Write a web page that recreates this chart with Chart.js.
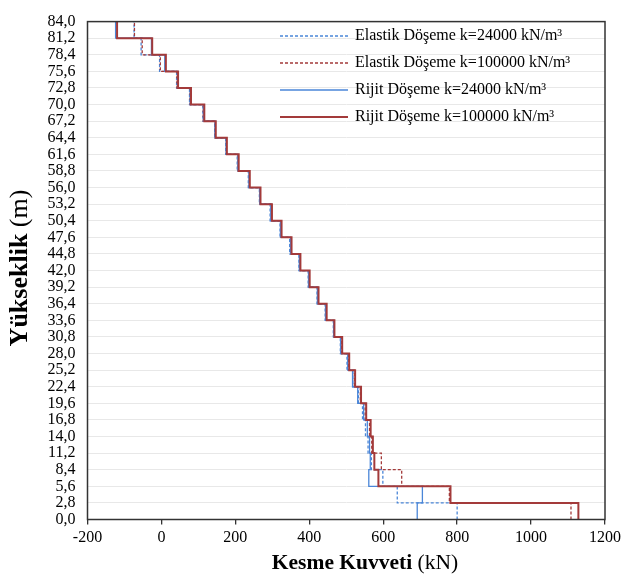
<!DOCTYPE html>
<html lang="tr">
<head>
<meta charset="utf-8"/>
<title>Kesme Kuvveti - Yükseklik</title>
<script src="https://cdn.jsdelivr.net/npm/chart.js"></script>
<style>
    body {
      margin: 0;
      background: #fff;
    }
    .kutu {
      position: relative;
      width: 625px;
      height: 577px;
    }
  </style>
</head>
<body>
<div class="kutu">
<canvas id="grafik"></canvas>
</div>
<script>
    // kat seviyeleri (m) - y ekseni etiketleri
    const seviyeler = [0, 2.8, 5.6, 8.4, 11.2, 14, 16.8, 19.6, 22.4, 25.2, 28, 30.8, 33.6, 36.4, 39.2, 42,
      44.8, 47.6, 50.4, 53.2, 56, 58.8, 61.6, 64.4, 67.2, 70, 72.8, 75.6, 78.4, 81.2, 84];
    const xTikler = [-200, 0, 200, 400, 600, 800, 1000, 1200];

    // kat kesme kuvvetleri (kN), alttan üste
    const elastik24 = [800, 638, 599, 568, 559, 552, 544, 533, 518, 502, 484, 465, 443, 421, 397,
      372, 347, 321, 294, 265, 235, 205, 174, 144, 112, 76, 41, -5, -55, -74];
    const elastik100 = [1108, 779, 650, 595, 569, 563, 551, 538, 522, 506, 487, 467, 446, 424, 400,
      375, 350, 324, 297, 267, 238, 207, 176, 145, 113, 77, 42, -3, -52, -73];
    const rijit24 = [692, 706, 561, 565, 563, 557, 547, 531, 517, 504, 485, 466, 444, 422, 398,
      373, 349, 322, 296, 266, 237, 207, 175, 145, 114, 78, 44, 9, -27, -124];
    const rijit100 = [1128, 782, 587, 576, 572, 566, 554, 540, 524, 508, 489, 468, 447, 425, 401,
      376, 352, 325, 299, 268, 239, 209, 177, 147, 116, 80, 45, 12, -25, -120];

    const etiketler = [
      'Elastik Döşeme k=24000 kN/m³',
      'Elastik Döşeme k=100000 kN/m³',
      'Rijit Döşeme k=24000 kN/m³',
      'Rijit Döşeme k=100000 kN/m³'
    ];

    const MAVI = '#4a86d8';
    const KIRMIZI = '#a33a3a';
    const YAZI = '"Liberation Serif", "Times New Roman", serif';

    // her kat için dikey parça: (V, alt) -> (V, üst)
    function basamak(degerler) {
      const noktalar = [];
      degerler.forEach((v, i) => {
        noktalar.push({ x: v, y: seviyeler[i] });
        noktalar.push({ x: v, y: seviyeler[i + 1] });
      });
      return noktalar;
    }

    const seriler = [
      { label: etiketler[0], data: basamak(elastik24), borderColor: MAVI, borderWidth: 1.3, borderDash: [3, 2], order: 3 },
      { label: etiketler[1], data: basamak(elastik100), borderColor: KIRMIZI, borderWidth: 1.3, borderDash: [3, 2], order: 2 },
      { label: etiketler[2], data: basamak(rijit24), borderColor: MAVI, borderWidth: 1.3, order: 1 },
      { label: etiketler[3], data: basamak(rijit100), borderColor: KIRMIZI, borderWidth: 2, order: 0 }
    ];
    seriler.forEach(s => {
      s.showLine = true;
      s.pointRadius = 0;
      s.fill = false;
      s.tension = 0;
    });

    // çerçeve, lejant ve eksen başlıkları (kalın + normal karışık)
    const ekler = {
      id: 'ekler',
      afterDraw(chart) {
        const ctx = chart.ctx;
        const a = chart.chartArea;
        ctx.save();
        ctx.strokeStyle = '#333';
        ctx.lineWidth = 1.5;
        ctx.strokeRect(a.left, a.top, a.right - a.left, a.bottom - a.top);

        // lejant
        ctx.font = '16px ' + YAZI;
        ctx.textBaseline = 'middle';
        ctx.fillStyle = '#000';
        const satirlar = [36, 63, 90, 117];
        seriler.forEach((s, i) => {
          const y = satirlar[i];
          ctx.beginPath();
          ctx.strokeStyle = s.borderColor;
          ctx.lineWidth = s.borderWidth;
          ctx.setLineDash(s.borderDash || []);
          ctx.moveTo(280, y);
          ctx.lineTo(348, y);
          ctx.stroke();
          ctx.setLineDash([]);
          ctx.fillText(s.label, 355, y);
        });

        // eksen başlıkları
        function yaz(k, n, cx, cy, boy) {
          const kalin = 'bold ' + boy + 'px ' + YAZI;
          const normal = boy + 'px ' + YAZI;
          ctx.font = kalin;
          const w1 = ctx.measureText(k).width;
          ctx.font = normal;
          const w2 = ctx.measureText(n).width;
          let x = cx - (w1 + w2) / 2;
          ctx.textAlign = 'left';
          ctx.font = kalin;
          ctx.fillText(k, x, cy);
          ctx.font = normal;
          ctx.fillText(n, x + w1, cy);
        }
        ctx.fillStyle = '#000';
        yaz('Kesme Kuvveti', ' (kN)', 365, 563, 21.5);

        ctx.translate(20, 268);
        ctx.rotate(-Math.PI / 2);
        yaz('Yükseklik', ' (m)', 0, 0, 26);
        ctx.restore();
      }
    };

    new Chart(document.getElementById('grafik'), {
      type: 'scatter',
      data: { datasets: seriler },
      options: {
        responsive: true,
        maintainAspectRatio: false,
        animation: false,
        layout: { padding: { top: 12.5, right: 18, left: 0, bottom: 0 } },
        plugins: {
          legend: { display: false },
          tooltip: { enabled: false }
        },
        scales: {
          x: {
            type: 'linear',
            min: -200,
            max: 1200,
            afterBuildTicks: s => { s.ticks = xTikler.map(v => ({ value: v })); },
            afterFit: s => { s.height = 57.5; },
            border: { display: false },
            grid: { drawOnChartArea: false, drawTicks: true, tickLength: 5, tickColor: '#333', lineWidth: 1.3 },
            ticks: {
              color: '#000',
              padding: 4,
              font: { family: YAZI, size: 16 },
              maxRotation: 0,
              callback: v => String(v)
            }
          },
          y: {
            type: 'linear',
            min: 0,
            max: 84,
            afterBuildTicks: s => { s.ticks = seviyeler.map(v => ({ value: v })); },
            afterFit: s => { s.width = 87.5; },
            border: { display: false },
            grid: { color: '#e8e8e8', lineWidth: 1, drawTicks: false },
            ticks: {
              color: '#000',
              padding: 12,
              autoSkip: false,
              font: { family: YAZI, size: 16 },
              callback: v => v.toFixed(1).replace('.', ',')
            }
          }
        }
      },
      plugins: [ekler]
    });
  </script>
</body>
</html>
